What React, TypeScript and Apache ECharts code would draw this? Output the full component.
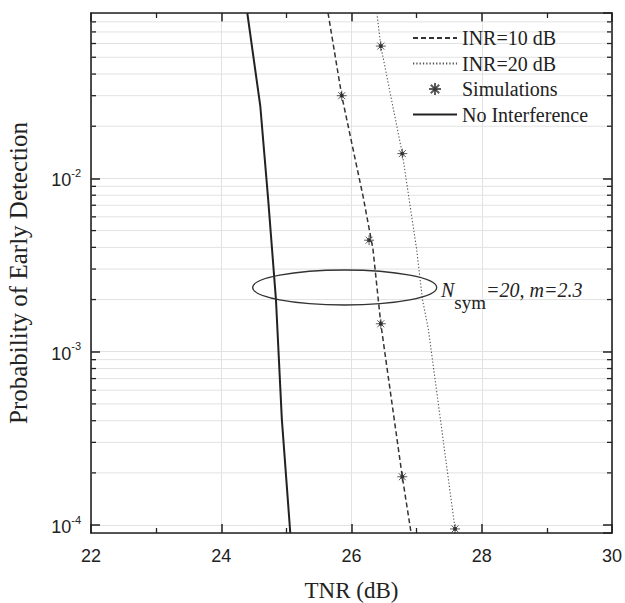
import React, { useEffect, useRef } from "react";
import * as echarts from "echarts";

// ---- axis ranges & ticks ----
const xMin = 22;
const xMax = 30;
const xInterval = 2;
const yMin = 0.00009;
const yMax = 0.09;
const yMinorTicks = [
  0.0002, 0.0003, 0.0004, 0.0005, 0.0006, 0.0007, 0.0008, 0.0009,
  0.002, 0.003, 0.004, 0.005, 0.006, 0.007, 0.008, 0.009,
  0.02, 0.03, 0.04, 0.05, 0.06, 0.07, 0.08,
];

// ---- series data ----
const inr10X = [25.64, 25.85, 26.18, 26.33, 26.45, 26.78, 26.91];
const inr10P = [0.09, 0.03, 0.0078, 0.0039, 0.00145, 0.00019, 0.0000927];

const inr20X = [26.39, 26.45, 26.78, 27.0, 27.09, 27.18, 27.59];
const inr20P = [0.09, 0.058, 0.0139, 0.0039, 0.002, 0.00135, 0.000095];

const noIntX = [24.4, 24.6, 24.72, 24.84, 24.93, 25.06];
const noIntP = [0.09, 0.026, 0.0076, 0.002, 0.00041, 0.00009];

const simX = [25.85, 26.27, 26.45, 26.78, 26.45, 26.78, 27.59];
const simP = [0.03, 0.0044, 0.00145, 0.00019, 0.058, 0.0139, 0.000095];

const seriesNames = ["INR=10 dB", "INR=20 dB", "Simulations", "No Interference"];

const SERIF = "'Liberation Serif', 'Times New Roman', serif";
const SANS = "'Liberation Sans', Arial, sans-serif";
const INK = "#222";
const GRID = "#e2e2e2";

const starPath =
  "path://M5,0 L5,10 M0,5 L10,5 M1.5,1.5 L8.5,8.5 M1.5,8.5 L8.5,1.5 M3.6,3.6 L6.4,3.6 L6.4,6.4 L3.6,6.4 Z";

const zip = (xs: number[], ys: number[]) => xs.map((x, i) => [x, ys[i]]);

export default function App() {
  const ref = useRef<HTMLDivElement>(null);

  useEffect(() => {
    if (!ref.current) return;
    const chart = echarts.init(ref.current, null, { renderer: "svg" });

    const axisLine = { show: true, onZero: false, lineStyle: { color: INK, width: 1.6 } };
    const axisTick = { show: true, inside: true, length: 9, lineStyle: { color: INK, width: 1.5 } };

    const yLabelFormatter = (v: number) => {
      const e = Math.log10(v);
      const r = Math.round(e);
      if (Math.abs(e - r) > 1e-6) return "";
      return `{b|10}{s|${r}}`;
    };

    chart.setOption({
      animation: false,
      backgroundColor: "#ffffff",
      grid: {
        left: 91,
        right: 13,
        top: 13,
        bottom: 70,
        containLabel: false,
        outerBoundsMode: "none",
      },
      legend: {
        data: seriesNames.map((n) =>
          n === "Simulations" ? { name: n } : { name: n, itemStyle: { opacity: 0 } }
        ),
        orient: "vertical",
        left: 412,
        top: 28,
        itemWidth: 44,
        itemHeight: 12,
        itemGap: 5.5,
        padding: 0,
        selectedMode: false,
        textStyle: { fontFamily: SERIF, fontSize: 20, color: INK, lineHeight: 20 },
      },
      xAxis: [
        {
          type: "value",
          min: xMin,
          max: xMax,
          interval: xInterval,
          position: "bottom",
          axisLine,
          axisTick,
          minorTick: { show: true, splitNumber: 2, length: 5, lineStyle: { color: INK, width: 1.3 } },
          splitLine: { show: true, lineStyle: { color: GRID, width: 1 } },
          minorSplitLine: { show: false },
          axisLabel: { fontFamily: SANS, fontSize: 18, color: INK, margin: 14 },
          name: "TNR (dB)",
          nameLocation: "middle",
          nameGap: 46,
          nameTextStyle: { fontFamily: SERIF, fontSize: 23, color: INK },
        },
        {
          type: "value",
          min: xMin,
          max: xMax,
          interval: xInterval,
          position: "top",
          axisLine,
          axisTick,
          minorTick: { show: true, splitNumber: 2, length: 5, lineStyle: { color: INK, width: 1.3 } },
          splitLine: { show: false },
          axisLabel: { show: false },
        },
      ],
      yAxis: [
        {
          type: "log",
          logBase: 10,
          min: yMin,
          max: yMax,
          position: "left",
          axisLine,
          axisTick,
          splitLine: { show: true, lineStyle: { color: GRID, width: 1 } },
          minorTick: { show: false },
          axisLabel: {
            formatter: yLabelFormatter,
            margin: 10,
            showMinLabel: false,
            showMaxLabel: false,
            rich: {
              b: { fontFamily: SANS, fontSize: 18, color: INK, lineHeight: 22, verticalAlign: "bottom" },
              s: { fontFamily: SANS, fontSize: 11, color: INK, lineHeight: 11, verticalAlign: "top" },
            },
          },
          name: "Probability of Early Detection",
          nameLocation: "middle",
          nameGap: 60,
          nameTextStyle: { fontFamily: SERIF, fontSize: 25, color: INK },
        },
        {
          type: "log",
          logBase: 10,
          min: yMin,
          max: yMax,
          position: "right",
          axisLine,
          axisTick,
          splitLine: { show: false },
          minorTick: { show: false },
          axisLabel: { show: false },
        },
      ],
      series: [
        {
          name: "minor-grid",
          type: "custom",
          coordinateSystem: "cartesian2d",
          xAxisIndex: 0,
          yAxisIndex: 0,
          silent: true,
          z: 1,
          clip: false,
          data: yMinorTicks.map((v) => [xMin, v]),
          renderItem: (_params: any, api: any) => {
            const v = api.value(1);
            const l = api.coord([xMin, v]);
            const r = api.coord([xMax, v]);
            return {
              type: "group",
              children: [
                {
                  type: "line",
                  shape: { x1: l[0], y1: l[1], x2: r[0], y2: r[1] },
                  style: { stroke: GRID, lineWidth: 1 },
                },
                {
                  type: "line",
                  shape: { x1: l[0], y1: l[1], x2: l[0] + 5, y2: l[1] },
                  style: { stroke: INK, lineWidth: 1.3 },
                },
                {
                  type: "line",
                  shape: { x1: r[0] - 5, y1: r[1], x2: r[0], y2: r[1] },
                  style: { stroke: INK, lineWidth: 1.3 },
                },
              ],
            };
          },
        },
        {
          name: "INR=10 dB",
          type: "line",
          data: zip(inr10X, inr10P),
          symbol: "none",
          smooth: false,
          z: 3,
          lineStyle: { color: "#333", width: 1.5, type: [5, 3] },
          itemStyle: { color: "#333" },
        },
        {
          name: "INR=20 dB",
          type: "line",
          data: zip(inr20X, inr20P),
          symbol: "none",
          z: 3,
          lineStyle: { color: "#555", width: 1.1, type: [1.3, 2] },
          itemStyle: { color: "#555" },
        },
        {
          name: "Simulations",
          type: "scatter",
          data: zip(simX, simP),
          symbol: starPath,
          symbolSize: 10,
          z: 4,
          itemStyle: { color: "#111", borderColor: "#333", borderWidth: 1 },
        },
        {
          name: "No Interference",
          type: "line",
          data: zip(noIntX, noIntP),
          symbol: "none",
          z: 3,
          lineStyle: { color: "#222", width: 2, type: "solid" },
          itemStyle: { color: "#222" },
        },
      ],
      graphic: [
        {
          type: "ellipse",
          shape: { cx: 344.7, cy: 287.5, rx: 92, ry: 17.5 },
          style: { fill: "none", stroke: "#333", lineWidth: 1.3 },
          z: 10,
        },
        {
          type: "text",
          x: 441,
          y: 280,
          z: 10,
          style: {
            text: "{n|N}{sub|sym}{t|=20, m=2.3}",
            align: "left",
            verticalAlign: "top",
            rich: {
              n: { fontFamily: SERIF, fontStyle: "italic", fontSize: 20, lineHeight: 20, verticalAlign: "top", fill: INK },
              sub: { fontFamily: SERIF, fontSize: 19, lineHeight: 32, verticalAlign: "bottom", fill: INK },
              t: { fontFamily: SERIF, fontStyle: "italic", fontSize: 20, lineHeight: 20, verticalAlign: "top", fill: INK },
            },
          },
        },
      ],
    });

    return () => chart.dispose();
  }, []);

  return (
    <div
      ref={ref}
      style={{ position: "fixed", left: 0, top: 0, width: 625, height: 603, background: "#fff" }}
    />
  );
}
